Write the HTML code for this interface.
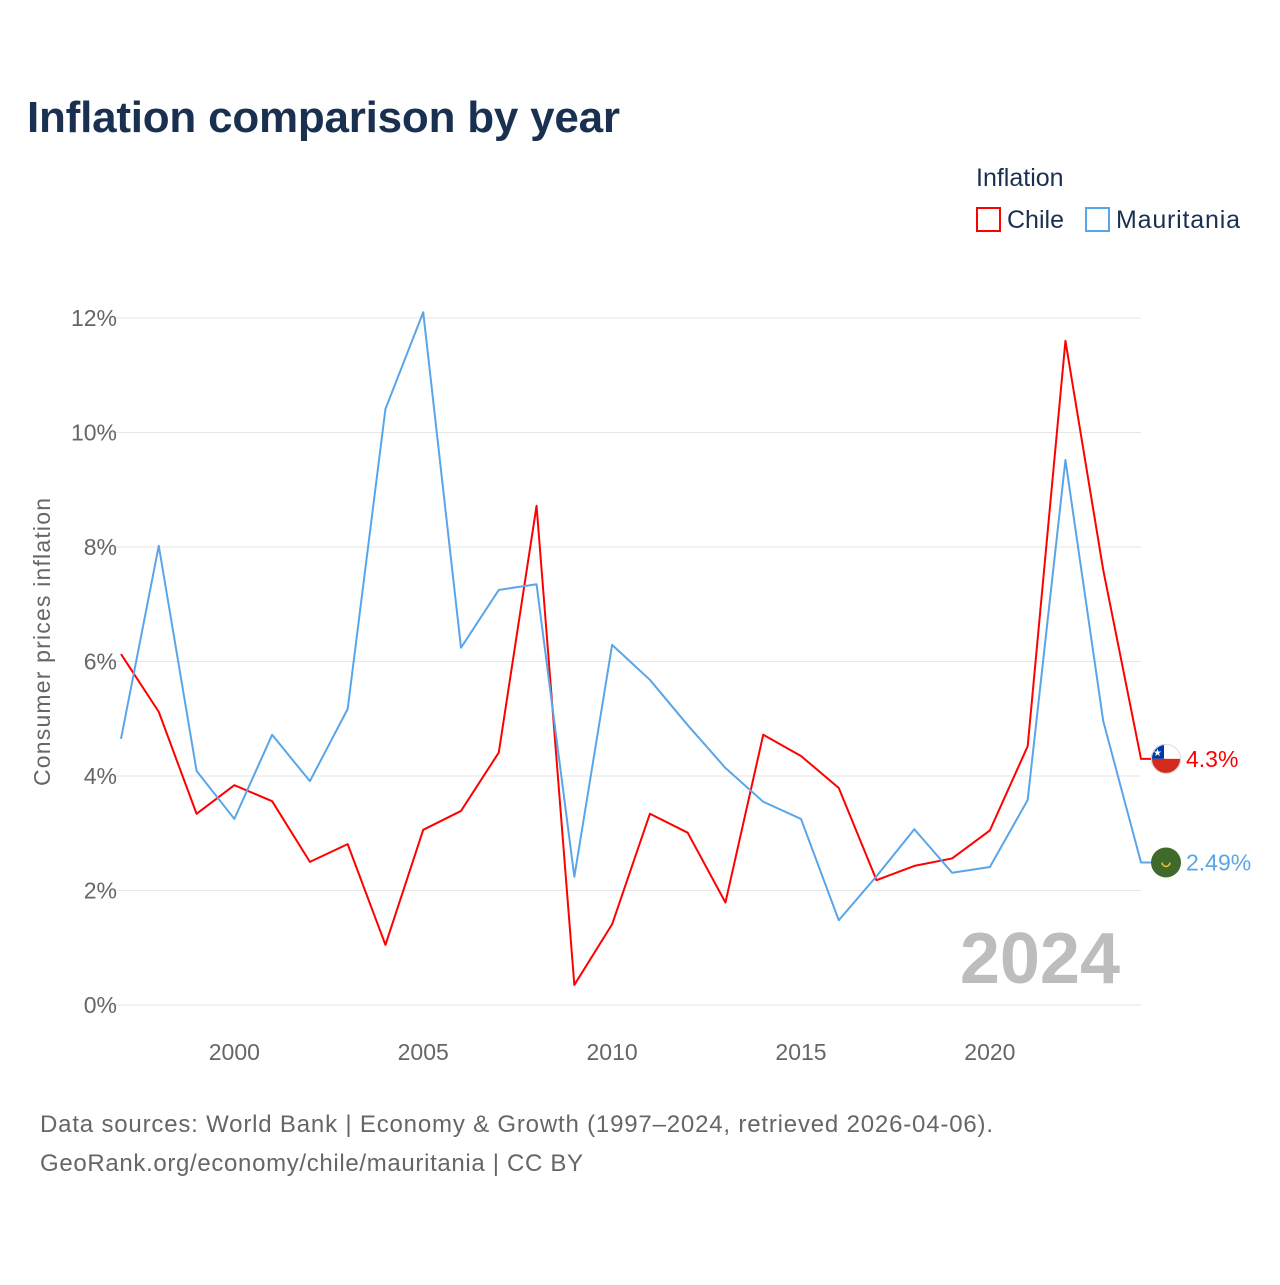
<!DOCTYPE html>
<html><head><meta charset="utf-8"><style>
body{margin:0;background:#fff;font-family:"Liberation Sans",sans-serif;}
svg text{font-family:"Liberation Sans",sans-serif;}
</style></head><body>
<svg id="chart" width="1280" height="1280" xmlns="http://www.w3.org/2000/svg">
<rect width="1280" height="1280" fill="#fff"/>
<text x="27" y="132" font-size="44" font-weight="bold" fill="#1a3050" textLength="593">Inflation comparison by year</text>
<text x="976" y="186" font-size="25" fill="#1a3050">Inflation</text>
<g><rect x="977" y="208" width="23" height="23" fill="none" stroke="#f00" stroke-width="2"/><text x="1007" y="228" font-size="25" fill="#1a3050">Chile</text></g>
<g><rect x="1086" y="208" width="23" height="23" fill="none" stroke="#5aa5ea" stroke-width="2"/><text x="1116" y="228" font-size="25" fill="#1a3050" textLength="124">Mauritania</text></g>
<g id="grid"></g><g id="xt"></g><g id="series"></g>
<text transform="translate(50,642) rotate(-90)" text-anchor="middle" font-size="23" fill="#666" textLength="288">Consumer prices inflation</text>
<text x="1120" y="983" text-anchor="end" font-size="72" font-weight="bold" fill="#bdbdbd">2024</text>
<text x="40" y="1132" font-size="24" fill="#666" textLength="953">Data sources: World Bank | Economy &amp; Growth (1997–2024, retrieved 2026-04-06).</text>
<text x="40" y="1171" font-size="24" fill="#666" textLength="543">GeoRank.org/economy/chile/mauritania | CC BY</text>
</svg>
<script>
const years=[1997,1998,1999,2000,2001,2002,2003,2004,2005,2006,2007,2008,2009,2010,2011,2012,2013,2014,2015,2016,2017,2018,2019,2020,2021,2022,2023,2024];
const chile=[6.13,5.12,3.34,3.84,3.56,2.50,2.81,1.05,3.06,3.39,4.41,8.72,0.35,1.41,3.34,3.01,1.79,4.72,4.35,3.79,2.18,2.43,2.56,3.05,4.52,11.6,7.6,4.3];
const mauritania=[4.65,8.02,4.09,3.25,4.72,3.91,5.17,10.41,12.1,6.24,7.25,7.35,2.24,6.29,5.68,4.89,4.14,3.55,3.25,1.48,2.25,3.07,2.31,2.41,3.58,9.52,4.96,2.49];
const yTicks=[0,2,4,6,8,10,12];
const xTicks=[2000,2005,2010,2015,2020];
const NS="http://www.w3.org/2000/svg";
const X=y=>121+(y-1997)*(1141-121)/27;
const Y=v=>1005-v*(1005-318)/12;
function mk(t,a,p){const e=document.createElementNS(NS,t);for(const k in a)e.setAttribute(k,a[k]);p.appendChild(e);return e;}
const grid=document.getElementById('grid');
yTicks.forEach(v=>{
 const l=mk('line',{x1:110,x2:1141,y1:Y(v),y2:Y(v),stroke:'#e6e6e6','stroke-width':1},grid);
 
 
 const t=mk('text',{x:117,y:Y(v)+8,'text-anchor':'end','font-size':23,fill:'#666'},grid);
 t.textContent=v+'%';
 
 
});
const xt=document.getElementById('xt');
xTicks.forEach(v=>{
 const t=mk('text',{x:X(v),y:1060,'text-anchor':'middle','font-size':23,fill:'#666'},xt);
 t.textContent=v;
 
 
});
const sg=document.getElementById('series');
function draw(vals,col,name,label){
 let d=vals.map((v,i)=>(i?'L':'M')+X(years[i])+','+Y(v)).join(' ');
 const last=vals[vals.length-1];
 d+=' L'+(X(2024)+10)+','+Y(last);
 const p=mk('path',{d:d,fill:'none',stroke:col,'stroke-width':2,'stroke-linejoin':'round'},sg);
 
 
 const t=mk('text',{x:1186,y:Y(last)+8,'font-size':23,fill:col},sg);
 t.textContent=label;
 
 
 return Y(last);
}
const yc=draw(chile,'#f00','chile','4.3%');
const ym=draw(mauritania,'#5aa5ea','mauritania','2.49%');
const fc=mk('g',{},sg);


mk('clipPath',{id:'cc'},fc).appendChild(document.createElementNS(NS,'circle'));
const cc=fc.querySelector('circle');cc.setAttribute('cx',1166);cc.setAttribute('cy',yc);cc.setAttribute('r',15);
mk('rect',{x:1151,y:yc-15,width:30,height:15,fill:'#fff','clip-path':'url(#cc)'},fc);
mk('rect',{x:1151,y:yc,width:30,height:15,fill:'#d52b1e','clip-path':'url(#cc)'},fc);
mk('rect',{x:1151,y:yc-15,width:13,height:15,fill:'#0039a6','clip-path':'url(#cc)'},fc);
mk('circle',{cx:1166,cy:yc,r:14.5,fill:'none',stroke:'#ddd','stroke-width':1},fc);
mk('text',{x:1157.5,y:yc-3,'font-size':10,fill:'#fff','text-anchor':'middle'},fc).textContent='★';
const fm=mk('g',{},sg);


mk('circle',{cx:1166,cy:ym,r:15,fill:'#3f6a2b'},fm);
mk('path',{d:`M${1162},${ym} a4,4 0 0 0 8,0`,fill:'none',stroke:'#f0c330','stroke-width':1.5},fm);
</script>
</body></html>
